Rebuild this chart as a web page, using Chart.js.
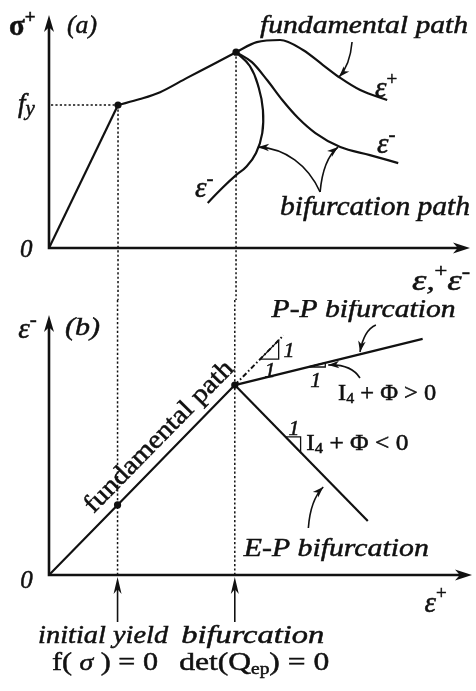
<!DOCTYPE html>
<html>
<head>
<meta charset="utf-8">
<script src="https://cdn.jsdelivr.net/npm/chart.js@4.4.1/dist/chart.umd.min.js"></script>
<style>
html,body{margin:0;padding:0;background:#fff;}
#wrap{position:relative;width:476px;height:691px;overflow:hidden;}
canvas{position:absolute;left:0;}
#ca{top:0;} #cb{top:300px;}
</style>
</head>
<body>
<div id="wrap">
<canvas id="ca" width="476" height="300"></canvas>
<canvas id="cb" width="476" height="391"></canvas>
</div>
<script>
// ---------- panel (a): stress (units of fy) against strain (units of yield strain)
const yieldStrain = 1.0;
const yieldStress = 1.0;      // fy
const bifStrain = 2.71;
const bifStress = 1.37;

const elasticStrain = [0, 1.0];
const elasticStress = [0, 1.0];
const hardeningStrain = [1.0, 1.32, 1.61, 2.0, 2.38, 2.71];
const hardeningStress = [1.0, 1.042, 1.09, 1.19, 1.285, 1.37];
const fundamentalStrain = [2.71, 3.01, 3.35, 3.68, 3.97, 4.22, 4.51, 4.90];
const fundamentalStress = [1.37, 1.44, 1.455, 1.385, 1.28, 1.19, 1.105, 1.035];
const bifurcationStrain = [2.71, 2.94, 3.16, 3.38, 3.61, 3.86, 4.22, 4.65, 5.06];
const bifurcationStress = [1.37, 1.30, 1.175, 1.035, 0.909, 0.804, 0.706, 0.650, 0.594];
const unloadingStrain = [2.71, 2.91, 3.04, 3.10, 3.09, 3.0, 2.855, 2.71, 2.51, 2.30];
const unloadingStress = [1.37, 1.273, 1.119, 0.965, 0.804, 0.664, 0.566, 0.510, 0.420, 0.315];

// ---------- panel (b): eps- against eps+
const fundPlus = [0, 1.0, 2.71];
const fundMinus = [0, 1.0, 2.71];
const extPlus = [2.71, 3.42];
const extMinus = [2.71, 3.42];
const ppPlus = [2.71, 5.45];
const ppMinus = [2.71, 3.37];
const epPlus = [2.71, 4.65];
const epMinus = [2.71, 0.77];
// slope triangles
const unitTriPlus = [3.08, 3.35, 3.35, 3.08];
const unitTriMinus = [3.08, 3.08, 3.35, 3.08];
const ppTriPlus = [3.78, 4.03, 4.03, 3.78];
const ppTriMinus = [2.968, 2.968, 3.028, 2.968];
const epTriPlus = [3.45, 3.67, 3.67, 3.45];
const epTriMinus = [1.97, 1.97, 1.75, 1.97];

// leader arrows (start, control point(s), tip) in each panel's data units
const leadersA = [
  [[4.391, 1.441], [4.362, 1.280], [4.203, 1.196]],
  [[3.928, 0.392], [3.754, 0.580], [3.420, 0.699], [3.029, 0.706]],
  [[3.928, 0.392], [3.957, 0.545], [4.043, 0.650], [4.188, 0.706]]
];
const leadersB = [
  [[4.768, 3.567], [4.594, 3.496], [4.536, 3.182]],
  [[4.536, 2.811], [4.406, 3.011], [4.072, 2.997]],
  [[3.783, 0.671], [3.812, 1.070], [4.000, 1.256]]
];

const INK = '#111';
const SERIF = '"Liberation Serif", "Times New Roman", serif';
const it = s => 'italic ' + s + 'px ' + SERIF;
const rm = s => s + 'px ' + SERIF;

const xy = (xs, ys) => xs.map((x, i) => ({ x, y: ys[i] }));
const line = (xs, ys, extra) => Object.assign({
  data: xy(xs, ys), showLine: true, borderColor: INK, backgroundColor: INK,
  borderWidth: 2.2, pointRadius: 0, fill: false, tension: 0
}, extra || {});
const dots = pts => ({
  data: pts, showLine: false, pointRadius: 3.6, pointBackgroundColor: INK,
  pointBorderColor: INK, pointBorderWidth: 0
});

const PX = (c, v) => c.scales.x.getPixelForValue(v);
const PY = (c, v) => c.scales.y.getPixelForValue(v);

function arrowHead(ctx, x, y, ang, len, half) {
  ctx.save();
  ctx.translate(x, y); ctx.rotate(ang);
  ctx.beginPath();
  ctx.moveTo(0, 0); ctx.lineTo(-len, -half); ctx.lineTo(-len * 0.72, 0); ctx.lineTo(-len, half);
  ctx.closePath(); ctx.fill();
  ctx.restore();
}

function leader(c, pts) {
  const ctx = c.ctx;
  const p = pts.map(([a, b]) => [PX(c, a), PY(c, b)]);
  ctx.save();
  ctx.strokeStyle = INK; ctx.fillStyle = INK; ctx.lineWidth = 1.6;
  ctx.beginPath(); ctx.moveTo(p[0][0], p[0][1]);
  if (p.length === 3) ctx.quadraticCurveTo(p[1][0], p[1][1], p[2][0], p[2][1]);
  else ctx.bezierCurveTo(p[1][0], p[1][1], p[2][0], p[2][1], p[3][0], p[3][1]);
  ctx.stroke();
  const a = p[p.length - 1], b = p[p.length - 2];
  arrowHead(ctx, a[0], a[1], Math.atan2(a[1] - b[1], a[0] - b[0]), 11, 3.8);
  ctx.restore();
}

function axes(c) {
  const ctx = c.ctx, area = c.chartArea;
  const x0 = PX(c, 0), y0 = PY(c, 0);
  ctx.save();
  ctx.strokeStyle = INK; ctx.fillStyle = INK; ctx.lineWidth = 2.6;
  ctx.beginPath();
  ctx.moveTo(x0, y0); ctx.lineTo(x0, area.top + 8);
  ctx.moveTo(x0 - 1.3, y0); ctx.lineTo(area.right - 8, y0);
  ctx.stroke();
  arrowHead(ctx, x0, area.top, -Math.PI / 2, 17, 5);
  arrowHead(ctx, area.right, y0, 0, 17, 5.5);
  ctx.restore();
}

function dotted(ctx, x1, y1, x2, y2) {
  ctx.save();
  ctx.strokeStyle = INK; ctx.lineWidth = 1.5; ctx.setLineDash([2.2, 2.2]);
  ctx.beginPath(); ctx.moveTo(x1, y1); ctx.lineTo(x2, y2); ctx.stroke();
  ctx.restore();
}

// parts: [text, font, dy]; opt: width (fit), align, rot
function rich(ctx, parts, x, y, opt) {
  opt = opt || {};
  const ws = parts.map(p => { ctx.font = p[1]; return ctx.measureText(p[0]).width; });
  const nat = ws.reduce((a, b) => a + b, 0);
  const sx = opt.width ? opt.width / nat : 1;
  ctx.save();
  ctx.fillStyle = INK; ctx.strokeStyle = INK; ctx.lineWidth = 0.5;
  ctx.textBaseline = 'alphabetic'; ctx.textAlign = 'left';
  ctx.translate(x, y);
  if (opt.rot) ctx.rotate(opt.rot);
  ctx.scale(sx, 1);
  let off = opt.align === 'center' ? -nat / 2 : 0;
  parts.forEach((p, i) => {
    ctx.font = p[1];
    ctx.fillText(p[0], off, p[2] || 0);
    ctx.strokeText(p[0], off, p[2] || 0);
    off += ws[i];
  });
  ctx.restore();
}

function drawLabels(c, list) {
  list.forEach(l => {
    const x = PX(c, l.at[0]), y = PY(c, l.at[1]);
    let rot = 0;
    if (l.along) {
      rot = Math.atan2(PY(c, l.along[3]) - PY(c, l.along[1]), PX(c, l.along[2]) - PX(c, l.along[0]));
    }
    rich(c.ctx, l.parts, x, y, { width: l.width, align: l.align, rot });
  });
}

const labelsA = [
  { at: [-0.58, 1.49], parts: [['σ', 'bold ' + rm(29)], ['+', 'bold ' + rm(19), -12]] },
  { at: [0.261, 1.503], parts: [['(a)', it(26)]], width: 30 },
  { at: [-0.449, 0.951], parts: [['f', it(27)], ['y', it(21), 3]] },
  { at: [-0.42, -0.063], parts: [['0', it(25)]] },
  { at: [3.058, 1.503], parts: [['fundamental path', it(26)]], width: 208 },
  { at: [4.725, 1.056], parts: [['ε', it(29)], ['+', rm(19), -12]] },
  { at: [4.754, 0.664], parts: [['ε', it(29)], ['-', rm(21), -12]] },
  { at: [2.116, 0.357], parts: [['ε', it(29)], ['-', rm(21), -12]] },
  { at: [3.348, 0.231], parts: [['bifurcation path', it(27)]], width: 190 },
  { at: [5.261, -0.294], parts: [['ε', it(29)], [',', it(26)], ['+', rm(18), -13], ['ε', it(29)], ['-', rm(20), -12]], width: 58 }
];

const labelsB = [
  { at: [-0.449, 3.382], parts: [['ε', it(29)], ['-', rm(21), -12]] },
  { at: [0.232, 3.425], parts: [['(b)', it(26)]], width: 35 },
  { at: [-0.42, -0.186], parts: [['0', it(25)]] },
  { at: [1.68, 1.90], parts: [['fundamental path', rm(26)]], width: 202, align: 'center', along: [0, 0, 2.71, 2.71] },
  { at: [3.246, 3.682], parts: [['P-P bifurcation', it(26)]], width: 184 },
  { at: [3.42, 3.111], parts: [['1', it(22)]] },
  { at: [3.145, 2.825], parts: [['1', it(22)]] },
  { at: [3.812, 2.683], parts: [['1', it(22)]] },
  { at: [3.493, 1.998], parts: [['1', it(22)]] },
  { at: [4.217, 2.497], parts: [['I', rm(23)], ['4', rm(15), 3], [' + Φ > 0', rm(23)]], width: 98 },
  { at: [3.754, 1.784], parts: [['I', rm(23)], ['4', rm(15), 3], [' + Φ < 0', rm(23)]], width: 102 },
  { at: [2.841, 0.271], parts: [['E-P bifurcation', it(26)]], width: 185 },
  { at: [5.478, -0.528], parts: [['ε', it(29)], ['+', rm(19), -13]] },
  { at: [-0.159, -0.970], parts: [['initial yield', it(26)]], width: 130 },
  { at: [1.928, -0.970], parts: [['bifurcation', it(26)]], width: 143 },
  { at: [0.043, -1.356], parts: [['f( ', rm(26)], ['σ', it(24)], [' ) = 0', rm(26)]], width: 106 },
  { at: [1.899, -1.356], parts: [['det(Q', rm(26)], ['ep', rm(16), 4], [') = 0', rm(26)]], width: 150 }
];

const baseOptions = (xMax, yMin, yMax, pad) => ({
  responsive: false, animation: false, events: [],
  layout: { padding: pad },
  scales: {
    x: { type: 'linear', min: 0, max: xMax, display: false },
    y: { type: 'linear', min: yMin, max: yMax, display: false }
  },
  plugins: { legend: { display: false }, tooltip: { enabled: false } }
});

// ---------- panel (a)
new Chart(document.getElementById('ca'), {
  type: 'scatter',
  data: {
    datasets: [
      line(elasticStrain, elasticStress),
      line(hardeningStrain, hardeningStress, { cubicInterpolationMode: 'monotone' }),
      line(fundamentalStrain, fundamentalStress, { cubicInterpolationMode: 'monotone' }),
      line(bifurcationStrain, bifurcationStress, { cubicInterpolationMode: 'monotone' }),
      line(unloadingStrain, unloadingStress, { tension: 0.45 }),
      dots([{ x: yieldStrain, y: yieldStress }, { x: bifStrain, y: bifStress }])
    ]
  },
  options: baseOptions(6.1, 0, 1.63, { left: 49, right: 6, top: 15, bottom: 52 }),
  plugins: [{
    id: 'panelA',
    beforeDatasetsDraw(c) {
      const ctx = c.ctx;
      dotted(ctx, PX(c, 0) + 2, PY(c, yieldStress), PX(c, yieldStrain), PY(c, yieldStress));
      dotted(ctx, PX(c, yieldStrain), PY(c, yieldStress), PX(c, yieldStrain), c.height);
      dotted(ctx, PX(c, bifStrain), PY(c, bifStress), PX(c, bifStrain), c.height);
    },
    afterDatasetsDraw(c) {
      axes(c);
      leadersA.forEach(l => leader(c, l));
      drawLabels(c, labelsA);
    }
  }]
});

// ---------- panel (b)
new Chart(document.getElementById('cb'), {
  type: 'scatter',
  data: {
    datasets: [
      line(fundPlus, fundMinus),
      line(extPlus, extMinus, { borderWidth: 2, borderDash: [5, 2.5, 1.6, 2.5] }),
      line(ppPlus, ppMinus),
      line(epPlus, epMinus),
      line(unitTriPlus, unitTriMinus, { borderWidth: 1.3 }),
      line(ppTriPlus, ppTriMinus, { borderWidth: 1.3 }),
      line(epTriPlus, epTriMinus, { borderWidth: 1.3 }),
      dots([{ x: yieldStrain, y: yieldStrain }, { x: bifStrain, y: bifStrain }])
    ]
  },
  options: baseOptions(6.17, -1.57, 3.71, { left: 49, right: 1, top: 15, bottom: 6 }),
  plugins: [{
    id: 'panelB',
    beforeDatasetsDraw(c) {
      const ctx = c.ctx;
      dotted(ctx, PX(c, yieldStrain), 0, PX(c, yieldStrain), PY(c, 0));
      dotted(ctx, PX(c, bifStrain), 0, PX(c, bifStrain), PY(c, 0));
    },
    afterDatasetsDraw(c) {
      const ctx = c.ctx;
      axes(c);
      [yieldStrain, bifStrain].forEach(s => {
        const x = PX(c, s), yTop = PY(c, 0) + 2, yBot = PY(c, -0.671);
        ctx.save();
        ctx.strokeStyle = INK; ctx.fillStyle = INK; ctx.lineWidth = 1.6;
        ctx.beginPath(); ctx.moveTo(x, yBot); ctx.lineTo(x, yTop + 10); ctx.stroke();
        arrowHead(ctx, x, yTop, -Math.PI / 2, 17, 4);
        ctx.restore();
      });
      leadersB.forEach(l => leader(c, l));
      drawLabels(c, labelsB);
    }
  }]
});
</script>
</body>
</html>
